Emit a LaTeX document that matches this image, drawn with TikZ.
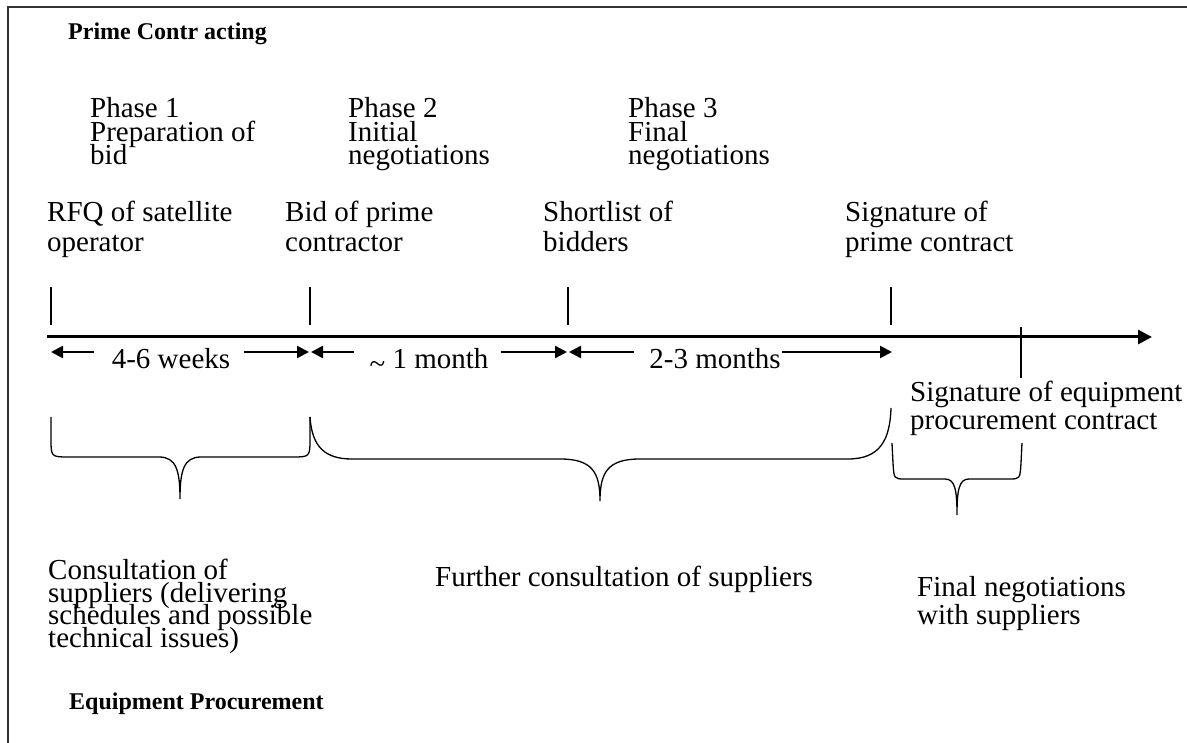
\documentclass[tikz,border=0pt]{standalone}
\usepackage{fontspec}
\setmainfont{Liberation Serif}
\usetikzlibrary{arrows.meta}
\begin{document}
\begin{tikzpicture}[x=1pt,y=-1pt,
  every node/.append style={execute at begin node={\lineskiplimit=-100pt\relax}},
  lbl/.style={anchor=base west, inner sep=0pt, align=left, font=\fontsize{29}{30}\selectfont},
  lblb/.style={anchor=base west, inner sep=0pt, align=left, font=\fontsize{29}{28}\selectfont},
  phase/.style={anchor=base west, inner sep=0pt, align=left, font=\fontsize{29}{23.5}\selectfont},
  tight/.style={anchor=base west, inner sep=0pt, align=left, font=\fontsize{29}{22.5}\selectfont},
  head/.style={anchor=base west, inner sep=0pt, font=\fontsize{24}{26}\selectfont\bfseries},
  dimtxt/.style={anchor=base, inner sep=0pt, font=\fontsize{29}{29}\selectfont},
  tick/.style={line width=1.2pt},
  axis/.style={line width=3pt, -{Triangle[length=14pt,width=14pt]}},
  dimarr/.style={line width=2.5pt, -{Triangle[length=12pt,width=12pt]}},
  brace/.style={line width=1.3pt},
  frame/.style={line width=2pt, black!80}
]
\useasboundingbox (0,0) rectangle (1187,743);
% frame
\coordinate (fb) at (8,743);
\coordinate (fc) at (8,7);
\coordinate (fr) at (1187,7);
\draw[frame] (fb) -- (fc) -- (fr);

% headings
\node[head] (hp) at (68,40) {Prime Contr acting};
\node[head] (he) at (69,709) {Equipment Procurement};

% phases (anchor = baseline of last line)
\node[phase] (p1) at (90,165) {Phase 1\\Preparation of\\bid};
\node[phase] (p2) at (348,165) {Phase 2\\Initial\\negotiations};
\node[phase] (p3) at (628,165) {Phase 3\\Final\\negotiations};

% milestone labels
\node[lbl] (m1) at (47,252) {RFQ of satellite\\operator};
\node[lbl] (m2) at (285,252) {Bid of prime\\contractor};
\node[lbl] (m3) at (543,252) {Shortlist of\\bidders};
\node[lbl] (m4) at (845,252) {Signature of\\prime contract};
\node[lblb] (m5) at (910,429) {Signature of equipment\\procurement contract};

% ticks
\coordinate (a1) at (51,287);  \coordinate (b1) at (51,325);
\coordinate (a2) at (310,287); \coordinate (b2) at (310,325);
\coordinate (a3) at (568,287); \coordinate (b3) at (568,325);
\coordinate (a4) at (891,287); \coordinate (b4) at (891,325);
\coordinate (a5) at (1021,327); \coordinate (b5) at (1021,378);
\draw[tick] (a1) -- (b1);
\draw[tick] (a2) -- (b2);
\draw[tick] (a3) -- (b3);
\draw[tick] (a4) -- (b4);
\draw[tick] (a5) -- (b5);

% axis
\coordinate (ax0) at (47,337);
\coordinate (ax1) at (1152,337);
\draw[axis] (ax0) -- (ax1);

% dimension arrows
\coordinate (e1) at (51,352);  \coordinate (e2) at (309,352);
\coordinate (e3) at (311,352); \coordinate (e4) at (567,352);
\coordinate (e5) at (569,352); \coordinate (e6) at (892,352);
\coordinate (g1) at (94,352);  \coordinate (g2) at (244,352);
\coordinate (g3) at (354,352); \coordinate (g4) at (501,352);
\coordinate (g5) at (634,352); \coordinate (g6) at (782,352);
\node[dimtxt] (d1) at (171,369) {4-6 weeks};
\node[dimtxt] (d2) at (429,369) {\raisebox{-0.15em}{\~{}} 1 month};
\node[dimtxt] (d3) at (715,369) {2-3 months};
\draw[dimarr] (g1) -- (e1);
\draw[dimarr] (g2) -- (e2);
\draw[dimarr] (g3) -- (e3);
\draw[dimarr] (g4) -- (e4);
\draw[dimarr] (g5) -- (e5);
\draw[dimarr] (g6) -- (e6);

% braces
\draw[brace] (51,417) -- (51,438) .. controls (51,457) .. (69,457) -- (159,457)
  .. controls (176,457) and (180,470) .. (180,499)
  .. controls (180,470) and (184,457) .. (201,457) -- (292,457)
  .. controls (310,457) .. (310,438) -- (310,417);
\draw[brace] (310,417) .. controls (312,447) and (325,459) .. (352,459) -- (560,459)
  .. controls (592,459) and (600,472) .. (600,501)
  .. controls (600,472) and (608,459) .. (640,459) -- (848,459)
  .. controls (880,459) and (890,440) .. (891,408);
\draw[brace] (892,443) -- (893,463) .. controls (894,479) .. (905,479) -- (945,479)
  .. controls (955,479) and (957,490) .. (957,515)
  .. controls (957,490) and (959,479) .. (969,479) -- (1009,479)
  .. controls (1020,479) .. (1021,463) -- (1022,443);

% bottom labels
\node[tight] (c1) at (48,647) {Consultation of\\suppliers (delivering\\schedules and possible\\technical issues)};
\node[lbl] (c2) at (435,586) {Further consultation of suppliers};
\node[lblb] (c3) at (917,624) {Final negotiations\\with suppliers};
\end{tikzpicture}
\end{document}
